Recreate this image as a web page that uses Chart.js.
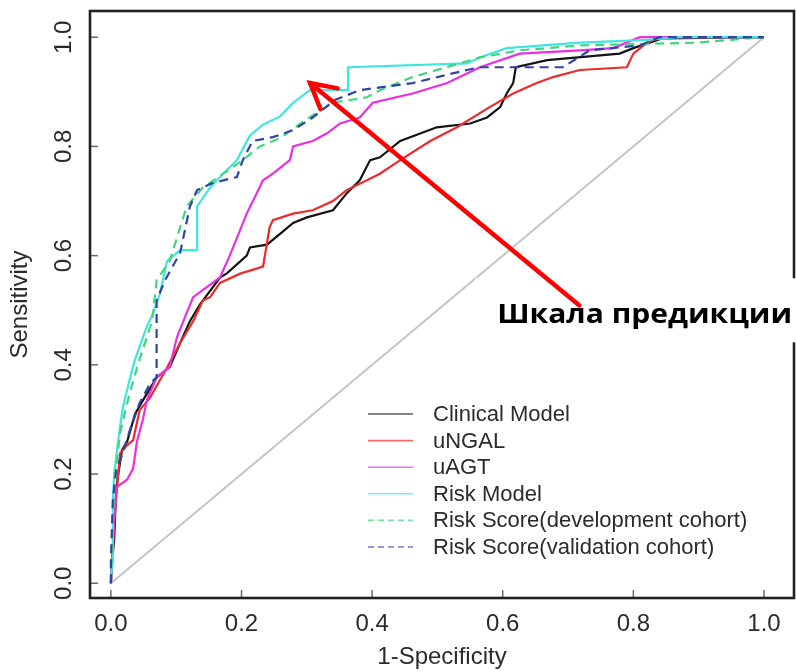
<!DOCTYPE html>
<html>
<head>
<meta charset="utf-8">
<script src="https://cdn.jsdelivr.net/npm/chart.js@4.4.1/dist/chart.umd.min.js"></script>
<style>
  html, body { margin: 0; padding: 0; background: #fff; }
  #wrap { width: 796px; height: 672px; position: relative; }
</style>
</head>
<body>
<div id="wrap"><canvas id="roc"></canvas></div>
<script>
// ====== Data ======
const xTicks = [0, 0.2, 0.4, 0.6, 0.8, 1.0];
const yTicks = [0, 0.2, 0.4, 0.6, 0.8, 1.0];

const seriesNames = [
  'Clinical Model',
  'uNGAL',
  'uAGT',
  'Risk Model',
  'Risk Score(development cohort)',
  'Risk Score(validation cohort)'
];

const clinicalFpr  = [0, 0.002, 0.005, 0.008, 0.011, 0.017, 0.025, 0.037, 0.049, 0.07, 0.09, 0.106, 0.121, 0.136, 0.167, 0.178, 0.208, 0.213, 0.239, 0.259, 0.279, 0.30, 0.34, 0.361, 0.381, 0.397, 0.412, 0.443, 0.499, 0.55, 0.576, 0.596, 0.606, 0.616, 0.62, 0.668, 0.779, 0.80, 0.845, 1];
const clinicalSens = [0, 0.042, 0.08, 0.17, 0.198, 0.244, 0.26, 0.31, 0.335, 0.377, 0.396, 0.44, 0.48, 0.51, 0.56, 0.568, 0.60, 0.615, 0.62, 0.64, 0.66, 0.67, 0.683, 0.714, 0.738, 0.775, 0.78, 0.81, 0.835, 0.842, 0.853, 0.872, 0.897, 0.916, 0.945, 0.958, 0.97, 0.98, 0.998, 1];

const ngalFpr  = [0, 0.002, 0.005, 0.009, 0.014, 0.025, 0.034, 0.044, 0.06, 0.086, 0.106, 0.126, 0.141, 0.152, 0.167, 0.198, 0.233, 0.243, 0.248, 0.279, 0.309, 0.34, 0.361, 0.392, 0.412, 0.443, 0.489, 0.53, 0.58, 0.616, 0.652, 0.677, 0.718, 0.79, 0.80, 0.821, 0.84, 1];
const ngalSens = [0, 0.042, 0.115, 0.17, 0.238, 0.253, 0.262, 0.317, 0.34, 0.395, 0.44, 0.48, 0.518, 0.524, 0.55, 0.567, 0.58, 0.652, 0.665, 0.677, 0.683, 0.70, 0.72, 0.738, 0.75, 0.775, 0.81, 0.835, 0.872, 0.897, 0.916, 0.927, 0.94, 0.945, 0.97, 0.99, 1.0, 1];

const agtFpr  = [0, 0.002, 0.005, 0.009, 0.025, 0.034, 0.04, 0.049, 0.055, 0.07, 0.09, 0.101, 0.116, 0.126, 0.167, 0.182, 0.208, 0.233, 0.248, 0.274, 0.279, 0.309, 0.331, 0.351, 0.381, 0.401, 0.462, 0.515, 0.565, 0.626, 0.718, 0.769, 0.81, 1];
const agtSens = [0, 0.042, 0.115, 0.176, 0.19, 0.21, 0.26, 0.30, 0.335, 0.377, 0.396, 0.45, 0.495, 0.524, 0.56, 0.60, 0.677, 0.738, 0.75, 0.775, 0.80, 0.81, 0.824, 0.842, 0.853, 0.88, 0.897, 0.916, 0.945, 0.97, 0.976, 0.98, 1.0, 1];

const riskModelFpr  = [0, 0.002, 0.003, 0.005, 0.011, 0.018, 0.028, 0.037, 0.055, 0.063, 0.075, 0.086, 0.106, 0.132, 0.132, 0.152, 0.172, 0.193, 0.213, 0.233, 0.259, 0.279, 0.305, 0.363, 0.363, 0.545, 0.565, 0.606, 0.718, 0.821, 0.87, 1];
const riskModelSens = [0, 0.042, 0.152, 0.20, 0.26, 0.32, 0.37, 0.41, 0.47, 0.49, 0.53, 0.59, 0.61, 0.61, 0.69, 0.725, 0.75, 0.775, 0.82, 0.84, 0.855, 0.88, 0.903, 0.903, 0.945, 0.952, 0.963, 0.98, 0.99, 0.995, 1.0, 1];

const devScoreFpr  = [0, 0.002, 0.006, 0.014, 0.029, 0.044, 0.063, 0.07, 0.09, 0.116, 0.141, 0.178, 0.202, 0.228, 0.259, 0.30, 0.34, 0.392, 0.412, 0.462, 0.565, 0.626, 0.718, 0.897, 1];
const devScoreSens = [0, 0.08, 0.19, 0.275, 0.35, 0.41, 0.48, 0.555, 0.59, 0.69, 0.725, 0.755, 0.775, 0.80, 0.815, 0.85, 0.88, 0.89, 0.903, 0.927, 0.963, 0.976, 0.985, 0.99, 1];

const valScoreFpr  = [0, 0, 0.003, 0.008, 0.017, 0.029, 0.044, 0.06, 0.07, 0.07, 0.083, 0.106, 0.121, 0.132, 0.156, 0.193, 0.202, 0.217, 0.248, 0.279, 0.309, 0.343, 0.381, 0.412, 0.462, 0.545, 0.565, 0.692, 0.733, 0.81, 0.84, 1];
const valScoreSens = [0, 0.042, 0.152, 0.207, 0.235, 0.28, 0.33, 0.366, 0.377, 0.518, 0.555, 0.605, 0.69, 0.72, 0.733, 0.744, 0.775, 0.81, 0.817, 0.83, 0.853, 0.885, 0.903, 0.908, 0.916, 0.94, 0.945, 0.945, 0.976, 0.985, 1.0, 1];

// chance line
const chanceFpr  = [0, 1];
const chanceSens = [0, 1];

// annotation: arrow tip / tail in axis units
const arrowTip  = [0.305, 0.916];
const arrowTail = [0.717, 0.509];
const noteText = 'Шкала предикции';

// ====== Styles ======
const FONT = '"Liberation Sans", Arial, sans-serif';
const TEXT = '#2b2b2b';
const lineStyles = [
  { color: '#141414', dash: [] },
  { color: '#ec2b2b', dash: [] },
  { color: '#ea2ee6', dash: [] },
  { color: '#3ee6e0', dash: [] },
  { color: '#3fd77a', dash: [9, 6] },
  { color: '#2f45a6', dash: [9, 6] }
];

const curves = [
  [clinicalFpr, clinicalSens],
  [ngalFpr, ngalSens],
  [agtFpr, agtSens],
  [riskModelFpr, riskModelSens],
  [devScoreFpr, devScoreSens],
  [valScoreFpr, valScoreSens]
];

const toPoints = (xs, ys) => xs.map((x, i) => ({ x: x, y: ys[i] }));

const datasets = curves.map((c, i) => ({
  label: seriesNames[i],
  data: toPoints(c[0], c[1]),
  showLine: true,
  borderColor: lineStyles[i].color,
  borderDash: lineStyles[i].dash,
  borderWidth: 2.2,
  pointRadius: 0,
  order: 6 - i
}));

datasets.push({
  label: 'chance',
  data: toPoints(chanceFpr, chanceSens),
  showLine: true,
  borderColor: '#c4c4c4',
  borderWidth: 2,
  pointRadius: 0,
  order: 10
});

// ====== Plugins ======
// box round the plot, inward tick marks and rotated y labels
const framePlugin = {
  id: 'frame',
  afterDatasetsDraw(chart) {
    const { ctx, chartArea: a, scales } = chart;
    ctx.save();
    ctx.strokeStyle = '#6a6a6a';
    ctx.lineWidth = 1.5;
    xTicks.forEach(v => {
      const px = scales.x.getPixelForValue(v);
      ctx.beginPath();
      ctx.moveTo(px, a.bottom);
      ctx.lineTo(px, a.bottom - 8);
      ctx.stroke();
    });
    yTicks.forEach(v => {
      const py = scales.y.getPixelForValue(v);
      ctx.beginPath();
      ctx.moveTo(a.left, py);
      ctx.lineTo(a.left + 8, py);
      ctx.stroke();
    });
    ctx.strokeStyle = '#222';
    ctx.lineWidth = 2.6;
    ctx.strokeRect(a.left, a.top, a.right - a.left, a.bottom - a.top);

    ctx.fillStyle = TEXT;
    ctx.font = '24px ' + FONT;
    ctx.textAlign = 'center';
    ctx.textBaseline = 'middle';
    yTicks.forEach(v => {
      const py = scales.y.getPixelForValue(v);
      ctx.save();
      ctx.translate(a.left - 26, py);
      ctx.rotate(-Math.PI / 2);
      ctx.fillText(v.toFixed(1), 0, 0);
      ctx.restore();
    });
    ctx.restore();
  }
};

// R-style legend without a box
const legendPlugin = {
  id: 'rLegend',
  afterDatasetsDraw(chart) {
    const { ctx, chartArea: a } = chart;
    const x0 = a.left + 278;
    const y0 = a.top + 403;
    const rowH = 26.6;
    ctx.save();
    ctx.font = '22px ' + FONT;
    ctx.textBaseline = 'middle';
    ctx.textAlign = 'left';
    seriesNames.forEach((name, i) => {
      const y = y0 + i * rowH;
      ctx.strokeStyle = lineStyles[i].color;
      ctx.globalAlpha = 0.7;
      ctx.lineWidth = 1.6;
      ctx.setLineDash(lineStyles[i].dash.length ? [6, 4] : []);
      ctx.beginPath();
      ctx.moveTo(x0, y);
      ctx.lineTo(x0 + 45, y);
      ctx.stroke();
      ctx.globalAlpha = 1;
      ctx.fillStyle = TEXT;
      ctx.fillText(name, x0 + 65, y + 1);
    });
    ctx.restore();
  }
};

// callout label and red arrow
const notePlugin = {
  id: 'note',
  afterDraw(chart) {
    const { ctx, scales } = chart;
    const tip = [scales.x.getPixelForValue(arrowTip[0]), scales.y.getPixelForValue(arrowTip[1])];
    const tail = [scales.x.getPixelForValue(arrowTail[0]), scales.y.getPixelForValue(arrowTail[1])];
    ctx.save();
    ctx.fillStyle = '#fff';
    ctx.fillRect(tail[0] - 104, tail[1] - 27, chart.width - (tail[0] - 104), 64);

    // label is stretched a little to fill its box
    ctx.fillStyle = '#000';
    ctx.font = 'bold 27px "Open Sans", ' + FONT;
    ctx.textBaseline = 'alphabetic';
    ctx.textAlign = 'left';
    const boxW = 295;
    const w = ctx.measureText(noteText).width;
    ctx.save();
    ctx.translate(tail[0] - 82, tail[1] + 18);
    ctx.scale(boxW / w, 1);
    ctx.fillText(noteText, 0, 0);
    ctx.restore();

    ctx.strokeStyle = '#ff0000';
    ctx.lineWidth = 4.5;
    ctx.lineCap = 'round';
    ctx.beginPath();
    ctx.moveTo(tail[0], tail[1]);
    ctx.lineTo(tip[0], tip[1]);
    ctx.stroke();
    const ang = Math.atan2(tail[1] - tip[1], tail[0] - tip[0]);
    const head = 28, spread = 0.5;
    ctx.beginPath();
    ctx.moveTo(tip[0] + head * Math.cos(ang - spread), tip[1] + head * Math.sin(ang - spread));
    ctx.lineTo(tip[0], tip[1]);
    ctx.lineTo(tip[0] + head * Math.cos(ang + spread), tip[1] + head * Math.sin(ang + spread));
    ctx.stroke();
    ctx.restore();
  }
};

// ====== Chart ======
new Chart(document.getElementById('roc'), {
  type: 'scatter',
  data: { datasets: datasets },
  options: {
    responsive: true,
    maintainAspectRatio: false,
    animation: false,
    layout: { padding: { top: 11, right: 2, left: 0, bottom: 0 } },
    plugins: {
      legend: { display: false },
      tooltip: { enabled: false }
    },
    scales: {
      x: {
        type: 'linear',
        min: -0.032,
        max: 1.046,
        border: { display: false },
        grid: { display: false, drawTicks: false },
        afterBuildTicks: s => { s.ticks = xTicks.map(v => ({ value: v })); },
        ticks: {
          color: TEXT,
          font: { family: FONT, size: 24 },
          padding: 12,
          maxRotation: 0,
          callback: v => Number(v).toFixed(1)
        },
        title: {
          display: true,
          text: '1-Specificity',
          color: TEXT,
          font: { family: FONT, size: 24 },
          padding: { top: 2, bottom: 0 }
        },
        afterFit: s => { s.height = 74; }
      },
      y: {
        type: 'linear',
        min: -0.027,
        max: 1.048,
        border: { display: false },
        grid: { display: false, drawTicks: false },
        afterBuildTicks: s => { s.ticks = yTicks.map(v => ({ value: v })); },
        ticks: { display: false },
        title: {
          display: true,
          text: 'Sensitivity',
          color: TEXT,
          font: { family: FONT, size: 24 },
          padding: { top: 6, bottom: 0 }
        },
        afterFit: s => { s.width = 90; }
      }
    }
  },
  plugins: [framePlugin, legendPlugin, notePlugin]
});
</script>
</body>
</html>
